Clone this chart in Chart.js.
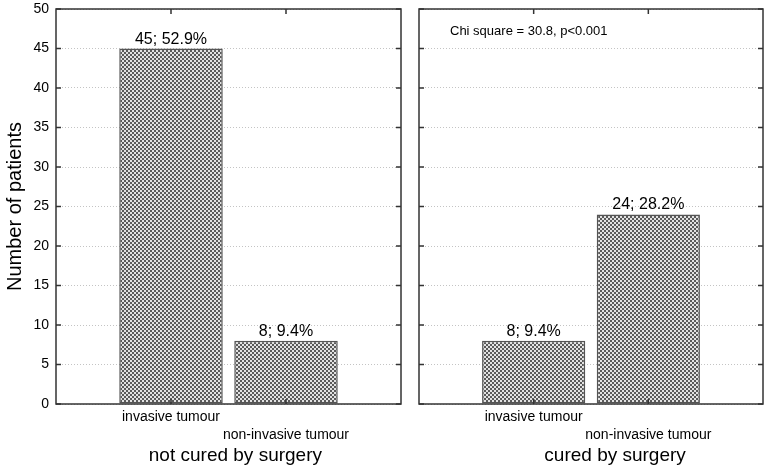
<!DOCTYPE html>
<html>
<head>
<meta charset="utf-8">
<script src="https://cdn.jsdelivr.net/npm/chart.js"></script>
<style>
  html,body{margin:0;padding:0;background:#fff;}
  #wrap{position:relative;width:767px;height:470px;overflow:hidden;}
  #wrap canvas{position:absolute;top:0;}
</style>
</head>
<body>
<div id="wrap">
  <canvas id="c-left" width="410" height="470" style="left:0"></canvas>
  <canvas id="c-right" width="357" height="470" style="left:410px"></canvas>
</div>
<script>
// data
const categories = ['invasive tumour', 'non-invasive tumour'];
const groups = ['not cured by surgery', 'cured by surgery'];
const notCuredCounts = [45, 8];
const notCuredPct = [52.9, 9.4];
const curedCounts = [8, 24];
const curedPct = [9.4, 28.2];
const yMin = 0, yMax = 50, yStep = 5;
const yTitle = 'Number of patients';
const chiNote = 'Chi square = 30.8, p<0.001';

(function(){
  const FONT = "'Liberation Sans', Arial, Helvetica, sans-serif";
  Chart.defaults.font.family = FONT;
  Chart.defaults.color = '#000';

  // fine 2px checker fill like the printed bars
  function checker(){ const c=document.createElement('canvas'); c.width=4; c.height=4; const g=c.getContext('2d');
    g.fillStyle='#e2e2e2'; g.fillRect(0,0,4,4); g.fillStyle='#5a5a5a'; g.fillRect(0,0,2,2); g.fillRect(2,2,2,2);
    return g.createPattern(c,'repeat'); }
  const fill = checker();

  // frame, inward ticks, value labels, panel title, note
  const panelPlugin = {
    id:'panel',
    afterDatasetsDraw(chart, _a, opts){
      const ctx=chart.ctx, a=chart.chartArea, x=chart.scales.x, y=chart.scales.y;
      ctx.save();
      ctx.strokeStyle='#333'; ctx.lineWidth=1.5;
      ctx.strokeRect(a.left, a.top, a.right-a.left, a.bottom-a.top);
      ctx.beginPath();
      x.ticks.forEach((t,i)=>{ if(!x.getLabelForValue(t.value)) return; const px=x.getPixelForTick(i);
        ctx.moveTo(px,a.top); ctx.lineTo(px,a.top+5); ctx.moveTo(px,a.bottom); ctx.lineTo(px,a.bottom-5); });
      y.ticks.forEach((t,i)=>{ const py=y.getPixelForTick(i);
        ctx.moveTo(a.left,py); ctx.lineTo(a.left+5,py); ctx.moveTo(a.right,py); ctx.lineTo(a.right-5,py); });
      ctx.stroke();
      // value labels above the bars
      const ds=chart.data.datasets[0];
      ctx.fillStyle='#000'; ctx.font='16px '+FONT; ctx.textAlign='center'; ctx.textBaseline='alphabetic';
      chart.getDatasetMeta(0).data.forEach((bar,i)=>{ const v=ds.data[i]; if(v==null) return;
        ctx.fillText(v+'; '+opts.pct[i].toFixed(1)+'%', bar.x, bar.y-5); });
      // group title under the panel
      ctx.font='19px '+FONT;
      ctx.fillText(opts.title, a.left+(a.right-a.left)*opts.titlePos, 461);
      if(opts.note){ ctx.font='13px '+FONT; ctx.textAlign='left'; ctx.fillText(opts.note, a.left+31, 35); }
      ctx.restore();
    }
  };

  function makeChart(id, counts, pct, title, titlePos, note, showY){
    const labels=[''].concat(categories,['']);
    const data=[null].concat(counts,[null]);
    const pctPad=[null].concat(pct,[null]);
    return new Chart(document.getElementById(id),{
      type:'bar',
      data:{ labels, datasets:[{ data, backgroundColor:fill, borderColor:'#555', borderWidth:1.5, borderSkipped:false,
        barPercentage:0.9, categoryPercentage:1 }] },
      plugins:[panelPlugin],
      options:{
        responsive:false, animation:false, events:[],
        layout:{ padding:{ top:9, right: showY?9:4, left: showY?0:9, bottom:0 } },
        plugins:{ legend:{display:false}, tooltip:{enabled:false}, panel:{ pct:pctPad, title, titlePos, note } },
        scales:{
          x:{ offset:false, grid:{display:false, drawTicks:false}, border:{display:false},
            afterFit(s){ s.height=66; s.paddingLeft=0; s.paddingRight=0; },
            ticks:{ autoSkip:false, maxRotation:0, padding:4, font:{size:14, lineHeight:18/14},
              callback(v,i){ const lab=this.getLabelForValue(v); if(!lab) return ''; return i%2 ? lab : ['', lab]; } } },
          y:{ min:yMin, max:yMax, border:{display:false, dash:[1,2]},
            grid:{ color:'#c4c4c4', drawTicks:false },
            afterFit(s){ s.width = showY?56:0; s.paddingTop=0; s.paddingBottom=0; },
            ticks:{ display:showY, stepSize:yStep, padding:7, font:{size:14} },
            title:{ display:showY, text:yTitle, font:{size:20}, padding:{top:3,bottom:0} } }
        }
      }
    });
  }

  makeChart('c-left', notCuredCounts, notCuredPct, groups[0], 0.52, null, true);
  makeChart('c-right', curedCounts, curedPct, groups[1], 0.57, chiNote, false);
})();
</script>
</body>
</html>
